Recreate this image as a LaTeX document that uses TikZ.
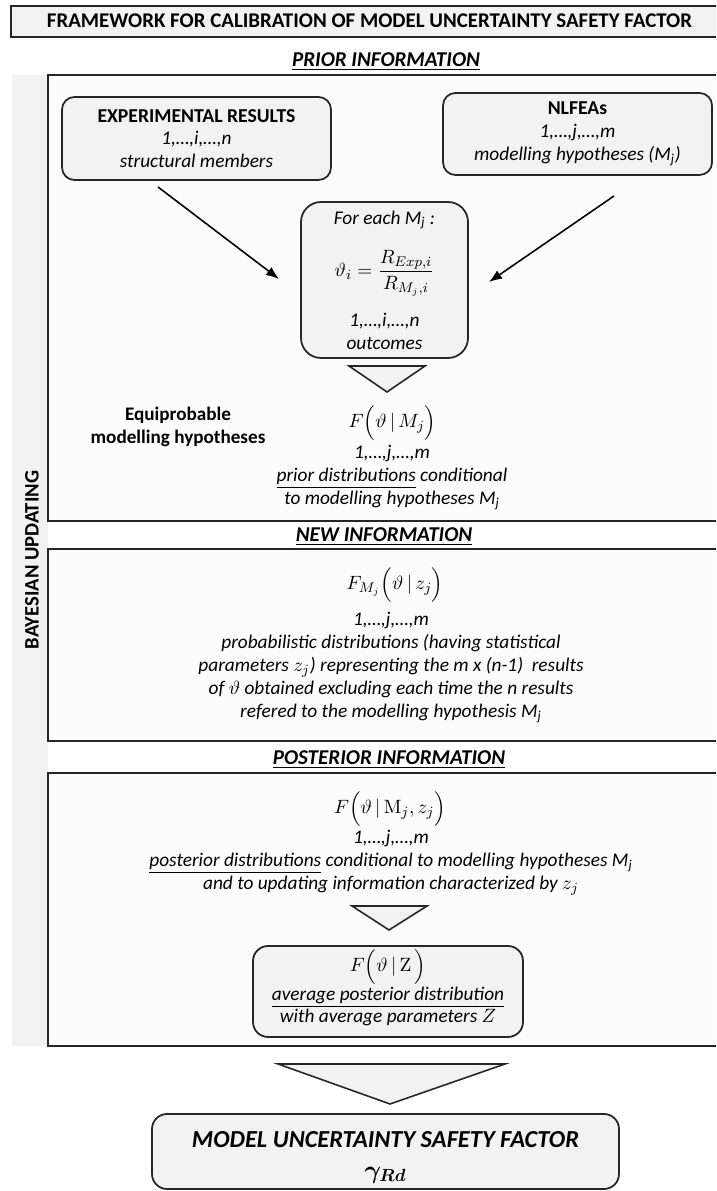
\documentclass[tikz,border=0pt]{standalone}
\usepackage{amsmath}
\usepackage[no-math]{fontspec}
\setmainfont{Carlito}
\usepackage{bm}
\usetikzlibrary{arrows.meta}

\tikzset{
  infobox/.style={draw=black!85, line width=1.1pt, fill=black!1},
  rbox/.style={draw=black!85, line width=1pt, fill=black!5, rounded corners=0.25cm, align=center, font=\fontsize{11}{13}\selectfont},
  sechead/.style={font=\fontsize{12}{14}\selectfont\bfseries\itshape},
  txt/.style={align=center, font=\fontsize{11}{13}\selectfont\itshape},
  formula/.style={font=\fontsize{11}{13}\selectfont},
  tri/.style={draw=black!85, line width=0.9pt, fill=black!5, line join=miter},
  arr/.style={-{Latex[length=2.6mm,width=2mm]}, line width=0.9pt},
}

\begin{document}
\begin{tikzpicture}
  \useasboundingbox (0.0,0.0) rectangle (14.32,23.82) ;
  \clip (0.0,0.0) rectangle (14.32,23.82) ;
  \fill[white] (0.0,0.0) rectangle (14.32,23.82) ;

  \draw[infobox, fill=black!5] (0.22,23.08) rectangle (14.6,23.70) ;
  \node[font=\fontsize{11.9}{14}\selectfont\bfseries] (title) at (7.39,23.40) {FRAMEWORK FOR CALIBRATION OF MODEL UNCERTAINTY SAFETY FACTOR} ;

  \fill[black!5] (0.24,2.90) rectangle (0.96,22.32) ;
  \node[rotate=90, font=\fontsize{11.7}{14}\selectfont\bfseries] (bayes) at (0.64,12.62) {BAYESIAN UPDATING} ;

  \node[sechead] (priorhead) at (7.72,22.58) {\underline{PRIOR INFORMATION}} ;
  \draw[infobox] (0.96,13.40) rectangle (14.6,22.32) ;
  \node[sechead] (newhead) at (7.68,13.08) {\underline{NEW INFORMATION}} ;
  \draw[infobox] (0.96,9.00) rectangle (14.6,12.84) ;
  \node[sechead] (posthead) at (7.78,8.62) {\underline{POSTERIOR INFORMATION}} ;
  \draw[infobox] (0.96,2.90) rectangle (14.6,8.36) ;

  \node[rbox, minimum width=5.38cm, minimum height=1.66cm] (exp) at (3.93,21.05)
    {{\fontsize{11.2}{13}\selectfont\bfseries EXPERIMENTAL RESULTS}\\ \textit{1,…,i,…,n}\\ \textit{structural members}} ;
  \node[rbox, minimum width=5.38cm, minimum height=1.64cm] (nlfea) at (11.55,21.14)
    {{\fontsize{11.2}{13}\selectfont\bfseries NLFEAs}\\ \textit{1,…,j,…,m}\\ \textit{modelling hypotheses (M\textsubscript{j})}} ;

  \node[rbox, rounded corners=0.4cm, minimum width=3.34cm, minimum height=3.12cm] (each) at (7.69,18.22) {} ;
  \node[txt] (eachlabel) at (7.69,19.42) {For each M\textsubscript{j} :} ;
  \node[formula] (ratio) at (7.69,18.36) {$\vartheta_i=\dfrac{R_{Exp,i}}{R_{M_j,i}}$} ;
  \node[txt] (outcomes) at (7.69,17.19) {1,…,i,…,n\\ outcomes} ;

  \coordinate (expout) at (3.16,20.08) ;
  \coordinate (expin) at (5.58,18.24) ;
  \coordinate (nlfeaout) at (12.28,19.90) ;
  \coordinate (nlfeain) at (9.78,18.18) ;
  \draw[arr] (expout) -- (expin) ;
  \draw[arr] (nlfeaout) -- (nlfeain) ;

  \draw[tri] (6.98,16.50) -- (8.50,16.50) -- (7.74,15.98) -- cycle ;
  \node[align=center, font=\fontsize{10.9}{13}\selectfont\bfseries] (equi) at (3.56,15.28) {Equiprobable\\ modelling hypotheses} ;
  \node[formula] (prior) at (7.85,15.36) {$F\Bigl(\vartheta\,|\,M_j\Bigr)$} ;
  \node[txt] (priortext) at (7.84,14.27) {1,…,j,…,m\\ \underline{prior distributions} conditional\\ to modelling hypotheses M\textsubscript{j}} ;

  \node[formula] (like) at (7.90,12.12) {$F_{M_j}\Bigl(\vartheta\,|\,z_j\Bigr)$} ;
  \node[txt] (liketext) at (7.82,10.47) {1,…,j,…,m\\ probabilistic distributions (having statistical\\
    parameters $z_j$) representing the m x (n-1)\ \ results\\ of $\vartheta$ obtained excluding each time the n results\\
    refered to the modelling hypothesis M\textsubscript{j}} ;

  \node[formula] (post) at (7.80,7.64) {$F\Bigl(\vartheta\,|\,\mathrm{M}_j,z_j\Bigr)$} ;
  \node[txt] (posttext) at (7.82,6.56) {1,…,j,…,m\\ \underline{posterior distributions} conditional to modelling hypotheses M\textsubscript{j}\\
    and to updating information characterized by $z_j$} ;
  \draw[tri] (7.04,5.70) -- (8.54,5.70) -- (7.78,5.22) -- cycle ;

  \node[rbox, rounded corners=0.3cm, minimum width=5.40cm, minimum height=1.82cm] (avg) at (7.76,3.99) {} ;
  \node[formula] (avgf) at (7.76,4.48) {$F\Bigl(\vartheta\,|\,\mathrm{Z}\,\Bigr)$} ;
  \node[txt] (avgtext) at (7.76,3.69) {\underline{average posterior distribution}\\ with average parameters $Z$} ;

  \draw[tri] (5.56,2.54) -- (10.10,2.54) -- (7.80,1.74) -- cycle ;

  \node[rbox, rounded corners=0.3cm, minimum width=9.34cm, minimum height=1.50cm] (gamma) at (7.71,0.79) {} ;
  \node[font=\fontsize{13.9}{16}\selectfont\bfseries\itshape] (factor) at (7.71,1.02) {MODEL UNCERTAINTY SAFETY FACTOR} ;
  \node[font=\fontsize{14}{16}\selectfont] (gammard) at (7.71,0.32) {$\bm{\gamma}_{\bm{Rd}}$} ;
\end{tikzpicture}
\end{document}
